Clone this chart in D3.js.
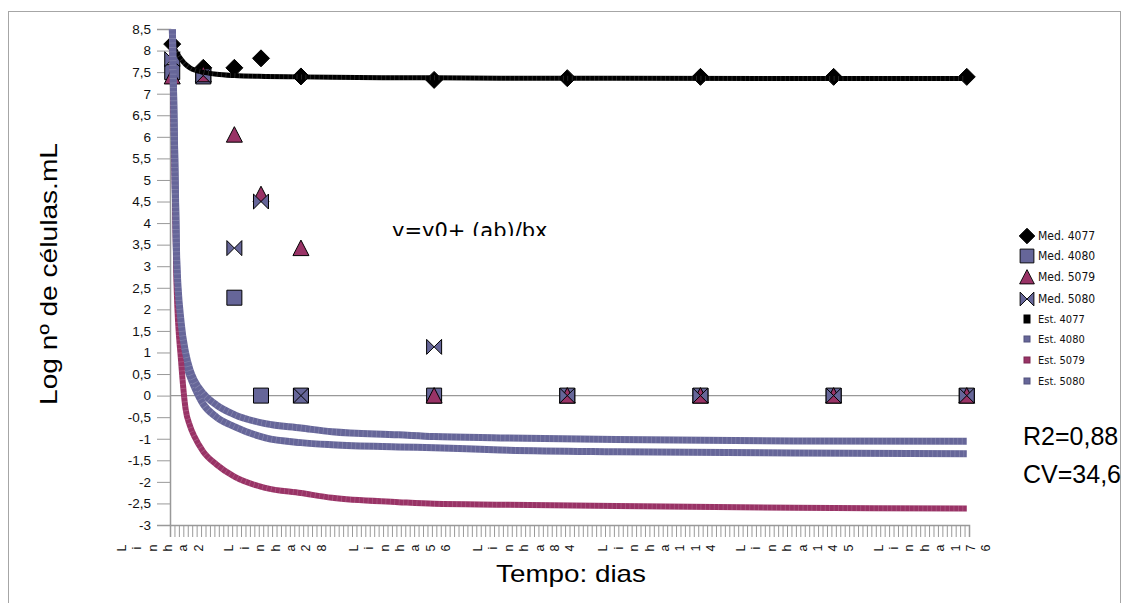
<!DOCTYPE html>
<html>
<head>
<meta charset="utf-8">
<script src="https://cdn.jsdelivr.net/npm/d3@7"></script>
<style>
  body { margin: 0; background: #fff; }
  svg { display: block; }
</style>
</head>
<body>
<svg></svg>
<script>
// categories = spreadsheet rows ("Linha 2" .. "Linha 181"), one per tick
const nCategories = 180;
const categoryLabels = ['Linha 2', 'Linha 28', 'Linha 56', 'Linha 84', 'Linha 114', 'Linha 145', 'Linha 176'];
const categoryLabelIndex = [0, 26, 54, 82, 112, 143, 174];

const yTickValues = [8.5, 8, 7.5, 7, 6.5, 6, 5.5, 5, 4.5, 4, 3.5, 3, 2.5, 2, 1.5, 1, 0.5, 0,
  -0.5, -1, -1.5, -2, -2.5, -3];

// measured points (category index of the row)
const medIndex = [0, 7, 14, 20, 29, 59, 89, 119, 149, 179];
const med4077 = [8.15, 7.6, 7.6, 7.82, 7.4, 7.32, 7.36, 7.39, 7.39, 7.39];
const med4080 = [7.5, 7.4, 2.27, 0, 0, 0, 0, 0, 0, 0];
const med5079 = [7.4, 7.45, 6.05, 4.67, 3.42, 0, 0, 0, 0, 0];
const med5080 = [7.8, 7.42, 3.42, 4.5, 0, 1.13, 0, 0, 0, 0];

// estimated (fitted) curves at some rows
const estIndex = [0, 1, 2, 3, 4, 5, 7, 10, 14, 21, 29, 36, 51, 59, 74, 100, 140, 179];
const est4077 = [8.15, 7.95, 7.8, 7.68, 7.6, 7.55, 7.5, 7.45, 7.42, 7.4, 7.39, 7.38, 7.37, 7.37, 7.36, 7.36, 7.35, 7.35];
const est4080 = [8.7, 3.0, 1.5, 0.8, 0.45, 0.2, -0.2, -0.5, -0.72, -0.98, -1.09, -1.14, -1.19, -1.21, -1.26, -1.3, -1.33, -1.35];
const est5079 = [8.3, 2.5, 0.8, -0.3, -0.7, -0.95, -1.3, -1.6, -1.88, -2.14, -2.26, -2.37, -2.47, -2.51, -2.53, -2.56, -2.6, -2.62];
const est5080 = [8.7, 3.2, 1.7, 1.0, 0.6, 0.35, 0.05, -0.22, -0.44, -0.65, -0.75, -0.84, -0.91, -0.95, -0.98, -1.02, -1.05, -1.06];

const purple = '#666699';
const plum = '#993366';

const W = 1129;
const H = 603;
const plotLeft = 170;
const plotRight = 969;
const plotTop = 29;
const plotBottom = 525;

const svg = d3.select('svg').attr('width', W).attr('height', H);

svg.append('rect')
  .attr('x', 8.5).attr('y', 11.5).attr('width', 1112).attr('height', 600)
  .attr('fill', 'none').attr('stroke', '#a6a6a6');

const x = d3.scaleBand().domain(d3.range(nCategories)).range([plotLeft, plotRight]).padding(0);
const xEdge = d3.scaleLinear().domain([0, nCategories]).range([plotLeft, plotRight]);
const px = i => x(i) + x.bandwidth() / 2;
const y = d3.scaleLinear().domain([-3, 8.5]).range([plotBottom, plotTop]);

const defs = svg.append('defs');
defs.append('clipPath').attr('id', 'plot')
  .append('rect').attr('x', plotLeft - 10).attr('y', plotTop)
  .attr('width', plotRight - plotLeft + 20).attr('height', plotBottom - plotTop);
defs.append('clipPath').attr('id', 'eq')
  .append('rect').attr('x', 300).attr('y', 200).attr('width', 400).attr('height', 36);

// zero line
svg.append('line')
  .attr('x1', plotLeft).attr('x2', plotRight + 6)
  .attr('y1', y(0)).attr('y2', y(0))
  .attr('stroke', '#999').attr('stroke-width', 1.2);

// y axis
const yAxis = svg.append('g')
  .attr('transform', `translate(${plotLeft},0)`)
  .call(d3.axisLeft(y).tickValues(yTickValues).tickSize(13).tickPadding(6)
    .tickFormat(d => String(d).replace('.', ',')));
yAxis.select('.domain').attr('stroke', '#999').attr('stroke-width', 1.5);
yAxis.selectAll('.tick line').attr('stroke', '#999');
yAxis.selectAll('text').attr('font-family', 'Liberation Sans, Arial, sans-serif')
  .attr('font-size', 13.5).attr('fill', '#111');

// x axis: a tick between every row
const xAxis = svg.append('g')
  .attr('transform', `translate(0,${plotBottom})`)
  .call(d3.axisBottom(xEdge).tickValues(d3.range(nCategories + 1)).tickSize(12).tickFormat(''));
xAxis.select('.domain').attr('stroke', '#999').attr('stroke-width', 1.5);
xAxis.selectAll('.tick line').attr('stroke', '#999');

// stacked category labels: one rotated glyph after another
const charStep = 15.4;
categoryLabels.forEach((label, k) => {
  const chars = label.replace(' ', '').split('');
  const cx = px(categoryLabelIndex[k]) - 12;
  svg.append('g').selectAll('text')
    .data(chars)
    .join('text')
    .attr('transform', (c, j) => `translate(${cx + (j - (chars.length - 1) / 2) * charStep},548) rotate(-90)`)
    .attr('text-anchor', 'middle')
    .attr('dominant-baseline', 'central')
    .attr('font-family', 'Liberation Sans, Arial, sans-serif')
    .attr('font-size', 12.5)
    .attr('fill', '#111')
    .text(c => c);
});

// marker shapes
const shapes = {
  diamond: 'M0,-8.5L8.5,0L0,8.5L-8.5,0Z',
  square: 'M-7.5,-7.5H7.5V7.5H-7.5Z',
  triangle: 'M0,-8L8,7.5H-8Z',
  bowtie: 'M-7.5,-7.5L0,0L-7.5,7.5ZM7.5,-7.5L0,0L7.5,7.5Z',
};

const medSeries = [
  { name: 'Med. 4077', values: med4077, shape: 'diamond', fill: '#000' },
  { name: 'Med. 4080', values: med4080, shape: 'square', fill: purple },
  { name: 'Med. 5079', values: med5079, shape: 'triangle', fill: plum },
  { name: 'Med. 5080', values: med5080, shape: 'bowtie', fill: purple },
];
const estSeries = [
  { name: 'Est. 4077', values: est4077, color: '#000', width: 5 },
  { name: 'Est. 4080', values: est4080, color: purple, width: 7 },
  { name: 'Est. 5079', values: est5079, color: plum, width: 6 },
  { name: 'Est. 5080', values: est5080, color: purple, width: 7 },
];

medSeries.forEach((s) => {
  svg.append('g').selectAll('path')
    .data(s.values)
    .join('path')
    .attr('d', shapes[s.shape])
    .attr('transform', (v, i) => `translate(${px(medIndex[i])},${y(v)})`)
    .attr('fill', s.fill)
    .attr('stroke', '#000')
    .attr('stroke-width', 1);
});

const line = d3.line()
  .x((v, i) => px(estIndex[i]))
  .y(v => y(v))
  .curve(d3.curveMonotoneX);

const lines = svg.append('g').attr('clip-path', 'url(#plot)');
estSeries.forEach((s) => {
  lines.append('path')
    .attr('d', line(s.values))
    .attr('fill', 'none')
    .attr('stroke', s.color)
    .attr('stroke-width', s.width);
  // the fitted series are drawn as rows of small markers: faint seams
  lines.append('path')
    .attr('d', line(s.values))
    .attr('fill', 'none')
    .attr('stroke', '#fff')
    .attr('stroke-opacity', 0.18)
    .attr('stroke-width', s.width)
    .attr('stroke-dasharray', `0.8 ${x.bandwidth() - 0.8}`);
});

// equation, clipped along its baseline like in the original
svg.append('text')
  .attr('clip-path', 'url(#eq)')
  .attr('x', 392).attr('y', 238)
  .attr('font-family', 'DejaVu Sans, Verdana, sans-serif')
  .attr('font-size', 21)
  .attr('fill', '#000')
  .text('y=y0+ (ab)/bx');

// legend
const legend = svg.append('g').attr('font-family', 'DejaVu Sans Condensed, DejaVu Sans, sans-serif')
  .attr('font-size', 12).attr('fill', '#111');
const legendY = [236, 256, 277, 299, 319, 339, 360, 381];
medSeries.forEach((s, i) => {
  legend.append('path')
    .attr('d', shapes[s.shape])
    .attr('transform', `translate(1027,${legendY[i]}) scale(0.92)`)
    .attr('fill', s.fill).attr('stroke', '#000');
  legend.append('text').attr('x', 1038).attr('y', legendY[i]).attr('dy', '0.36em').text(s.name);
});
estSeries.forEach((s, i) => {
  const h = i === 0 ? 8 : 6;
  legend.append('rect')
    .attr('x', 1024).attr('y', legendY[i + 4] - h / 2)
    .attr('width', 6).attr('height', h)
    .attr('fill', s.color)
    .attr('stroke', i === 0 ? '#000' : d3.color(s.color).darker(0.6));
  legend.append('text').attr('x', 1038).attr('y', legendY[i + 4]).attr('dy', '0.36em')
    .attr('font-size', 11).text(s.name);
});

// statistics
const stats = svg.append('g').attr('font-family', 'Liberation Sans, Arial, sans-serif')
  .attr('font-size', 25).attr('fill', '#000');
stats.append('text').attr('x', 1023).attr('y', 445).text('R2=0,88');
stats.append('text').attr('x', 1023).attr('y', 483).text('CV=34,6');

// axis titles
svg.append('text')
  .attr('transform', 'translate(57,274) rotate(-90)')
  .attr('text-anchor', 'middle')
  .attr('font-family', 'Liberation Sans, Arial, sans-serif')
  .attr('font-size', 24)
  .attr('textLength', 262)
  .attr('lengthAdjust', 'spacingAndGlyphs')
  .text('Log nº de células.mL');

svg.append('text')
  .attr('x', 571).attr('y', 582)
  .attr('text-anchor', 'middle')
  .attr('font-family', 'Liberation Sans, Arial, sans-serif')
  .attr('font-size', 24)
  .attr('textLength', 150)
  .attr('lengthAdjust', 'spacingAndGlyphs')
  .text('Tempo: dias');
</script>
</body>
</html>
